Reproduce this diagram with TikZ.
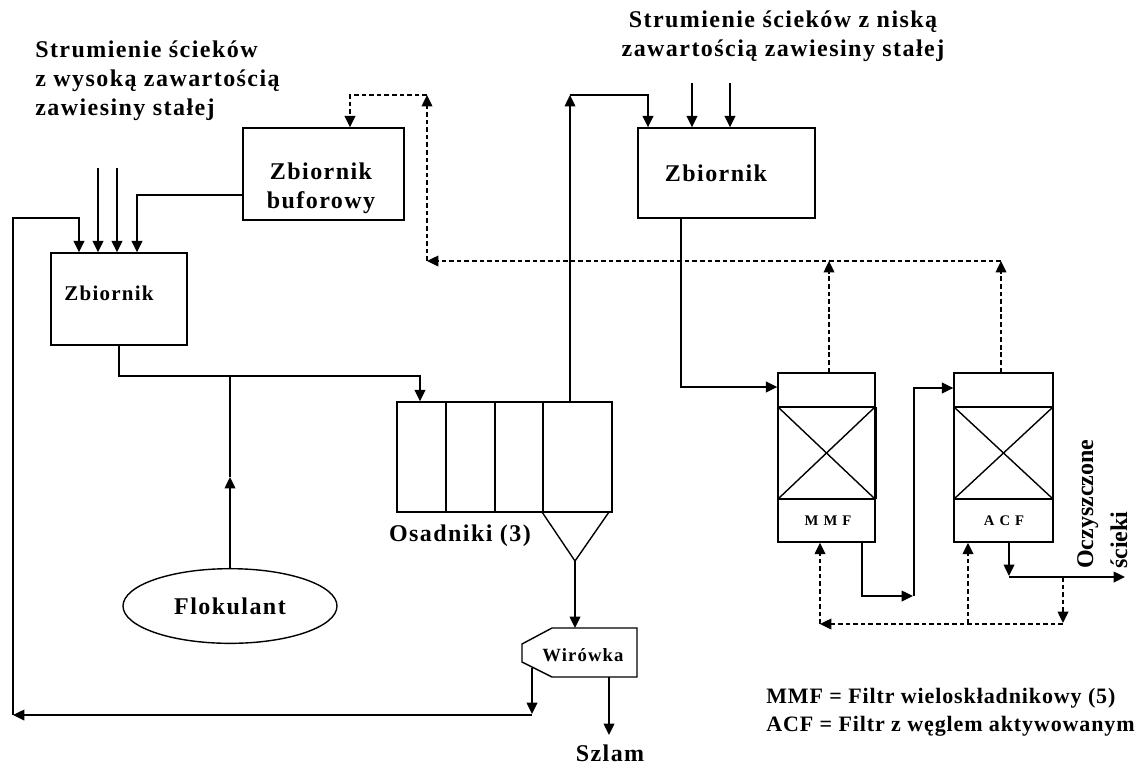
\documentclass[tikz,border=0pt]{standalone}
\usepackage{fontspec}
\setmainfont{Liberation Serif}
\newfontfamily\spfont[LetterSpace=6]{Liberation Serif}
\newfontfamily\widefont[LetterSpace=35]{Liberation Serif}
\newfontfamily\lgfont[LetterSpace=4]{Liberation Serif}
\usetikzlibrary{arrows.meta,shapes.geometric,fit}
\tikzset{
  ln/.style={line width=1.05pt},
  flow/.style={ln,-{Triangle[length=8.5pt,width=8pt]}},
  dflow/.style={flow,dash pattern=on 3.5pt off 2.2pt},
  box/.style={draw,line width=1.05pt,inner sep=0pt},
  big/.style={font=\fontsize{18pt}{21.4pt}\selectfont\spfont\bfseries,inner sep=0pt},
  mid/.style={font=\fontsize{15.75pt}{18pt}\selectfont\spfont\bfseries,inner sep=0pt},
  small/.style={font=\fontsize{14pt}{16pt}\selectfont\spfont\bfseries,inner sep=0pt},
  tiny/.style={font=\fontsize{11pt}{13pt}\selectfont\widefont\bfseries,inner sep=0pt},
  legend/.style={font=\fontsize{16.5pt}{21pt}\selectfont\lgfont\bfseries,inner sep=0pt},
}
\begin{document}
\begin{tikzpicture}[x=0.75pt,y=-0.75pt]
\useasboundingbox (0,0) rectangle (1146,769);

% texts at top
\node[big,align=left,anchor=north west] (srcA) at (35,41) {Strumienie ścieków\\z wysoką zawartością\\zawiesiny stałej};
\node[big,align=center,anchor=north] (srcB) at (783,11) {Strumienie ścieków z niską\\zawartością zawiesiny stałej};

% buffer tank
\node[box,fit={(243,128) (404,220)}] (buf) {};
\node[big,align=center] (buft) at (321,188) {Zbiornik\\buforowy};

% left tank
\node[box,fit={(51,253) (187,345)}] (lz) {};
\node[mid] (lzt) at (109,293) {Zbiornik};

% right tank
\node[box,fit={(638,128) (815,218)}] (rz) {};
\node[big] (rzt) at (716,173) {Zbiornik};

% settlers
\node[box,fit={(397,402) (612,512)}] (set) {};
\draw[line width=1.6pt] (446,402) -- (446,512);
\draw[line width=1.6pt] (495,402) -- (495,512);
\draw[line width=1.6pt] (543,402) -- (543,512);
\coordinate (tip) at (575,561);
\draw[ln] (542,512) -- (tip) -- (609,512);
\node[big] (ost) at (460,536) {Osadniki (3)};

% flocculant
\node[draw,ln,ellipse,minimum width=160.5pt,minimum height=56pt,inner sep=0pt,
      font=\fontsize{18pt}{20pt}\selectfont\spfont\bfseries] (flo) at (230,606) {Flokulant};

% centrifuge
\draw[ln] (552,628) -- (637,628) -- (637,677) -- (552,677) -- (522,662) -- (522,644) -- cycle;
\node[small] (wir) at (583,655) {Wirówka};
\node[big] (szl) at (610,753) {Szlam};

% filters
\node[box,fit={(778,373) (875,542)}] (mmf) {};
\draw[ln] (778,407) -- (875,407);
\draw[ln] (778,499) -- (875,499);
\draw[ln] (778,407) -- (875,499);
\draw[ln] (778,499) -- (875,407);
\draw[line width=1.6pt] (876,407) -- (876,499);
\node[tiny] (mmft) at (828,521) {MMF};

\node[box,fit={(954,373) (1053,542)}] (acf) {};
\draw[ln] (954,407) -- (1053,407);
\draw[ln] (954,499) -- (1053,499);
\draw[ln] (954,407) -- (1053,499);
\draw[ln] (954,499) -- (1053,407);
\node[tiny] (acft) at (1004,521) {ACF};

\node[font=\fontsize{18pt}{25.5pt}\selectfont\bfseries,inner sep=0pt,rotate=90,align=left,anchor=north west] (out) at (1077,569) {Oczyszczone\\ścieki};

\node[legend,align=left,anchor=north west] (leg) at (766,688) {MMF = Filtr wieloskładnikowy (5)\\ACF = Filtr z węglem aktywowanym};

% ---- solid connectors
\draw[flow] (98,168) -- (lz.north -| 98,0);
\draw[flow] (117,168) -- (lz.north -| 117,0);
\draw[flow] (buf.west |- 0,195) -| (lz.north -| 137,0);
\draw[flow] (532,668) -- (532,714);
\draw[flow] (532,715) -- (13,715);
\draw[flow] (13,715) |- (79,218) -- (lz.north -| 79,0);
\draw[flow] (lz.south) |- (420,376) -- (set.north -| 420,0);
\draw[flow] (flo.north) -- (230,477);
\draw[ln] (230,477) -- (230,376);
\draw[flow] (set.north -| 570,0) -- (570,95);
\draw[flow] (570,95) -| (rz.north -| 648,0);
\draw[flow] (692,83) -- (rz.north -| 692,0);
\draw[flow] (730,83) -- (rz.north -| 730,0);
\draw[flow] (tip) -- (575,628);
\draw[flow] (609,677) -- (609,735);
\draw[flow] (rz.south -| 681,0) |- (mmf.west |- 0,387);
\draw[flow] (mmf.south -| 862,0) |- (913,596);
\draw[flow] (914,596) |- (acf.west |- 0,388);
\draw[flow] (acf.south -| 1009,0) -- (1009,576);
\draw[flow] (1009,577) -- (1125,577);

% ---- dashed connectors
\draw[dflow] (mmf.north -| 829,0) -- (829,261);
\draw[dflow] (acf.north -| 1001,0) -- (1001,261);
\draw[dflow] (1001,261) -- (427,261);
\draw[dflow] (427,261) -- (427,95);
\draw[dflow] (427,95) -| (buf.north -| 350,0);
\draw[dflow] (1063,577) -- (1063,623);
\draw[dflow] (1063,624) -- (820,624);
\draw[dflow] (820,624) -- (mmf.south -| 820,0);
\draw[dflow] (968,624) -- (acf.south -| 968,0);
\end{tikzpicture}
\end{document}
